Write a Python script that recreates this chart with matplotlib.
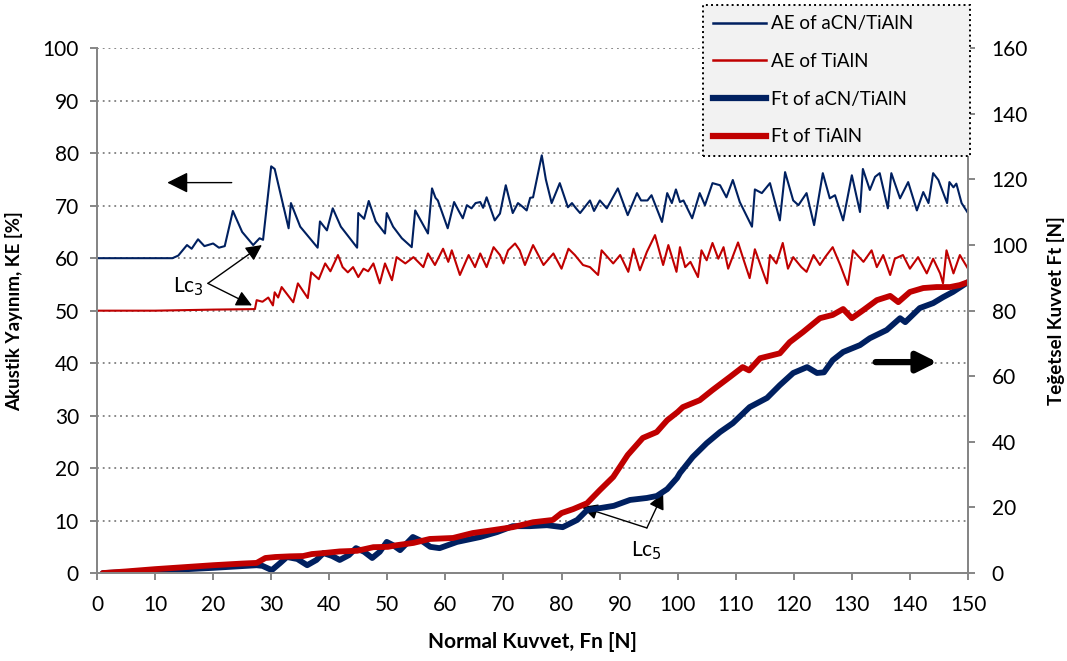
import matplotlib.pyplot as plt
from matplotlib.lines import Line2D

plt.rcParams['font.family'] = ['Lato', 'DejaVu Sans']

# AE of aCN/TiAlN (sol eksen, %)
ae_acn_x = [0, 13, 14, 15.5, 16.3, 17.4, 18.5, 20, 21, 22, 23.4, 25, 26.9, 28, 28.6, 30, 30.6, 33, 33.4, 35,
            38, 38.4, 39.6, 40.6, 42, 44.8, 45, 46, 46.8, 48, 49.6, 49.9, 51, 52.5, 54.2, 54.8, 57, 57.7, 58.3,
            58.7, 60.4, 61.5, 62.3, 63, 63.7, 64.5, 65.2, 66, 66.5, 67.1, 68.5, 69.4, 70.4, 71.6, 72.5, 73.3,
            74, 74.6, 75.1, 76.6, 77.3, 78.3, 79.7, 81.1, 81.8, 82.5, 83.2, 84.9, 85.6, 86.6, 87.8, 89.7, 91.4,
            93, 93.7, 94.8, 95.5, 97.3, 98.2, 99, 99.7, 100.4, 101, 102.5, 103.8, 104.7, 106, 107.3, 108.4,
            109.5, 110.7, 112.8, 113.3, 114.5, 115.9, 117.6, 118.5, 119.9, 120.8, 122.2, 123.5, 125, 126.2,
            127.1, 128.5, 130, 131.4, 131.9, 133.1, 134, 134.8, 136.2, 136.8, 138.3, 139.7, 141.2, 142.3,
            143.2, 144, 144.9, 146.4, 146.8, 147.5, 148, 148.9, 150]
ae_acn_y = [60, 60, 60.5, 62.5, 61.8, 63.6, 62.3, 62.8, 62, 62.3, 69, 65, 62.5, 63.8, 63.5, 77.5, 77, 65.7, 70.5, 66,
            62, 67, 65.3, 69.5, 66, 62, 68.6, 67.5, 70.9, 67, 64.7, 68.6, 66, 63.8, 62.1, 69.1, 64.7, 73.3, 71.5,
            71, 65.7, 70.7, 69, 67.6, 70.1, 69.5, 70.5, 70.7, 69.6, 71.6, 67.2, 68.5, 73.9, 68.6, 70.5, 69.8,
            69.1, 71.5, 71.6, 79.6, 75, 70.5, 74.3, 69.7, 70.5, 69.5, 68.6, 71, 69, 71, 69.5, 73.3, 68.2,
            72.4, 71, 71, 72, 66.9, 72.4, 70.5, 73.1, 70.7, 71, 67.6, 72.4, 70.1, 74.3, 73.9, 71.6,
            74.9, 70.7, 66, 73.1, 72.4, 74.3, 67.2, 76.4, 71, 70.1, 72.4, 66.3, 76.2, 71.4,
            72, 67.2, 75.8, 68.8, 77, 73, 75.5, 76.2, 69.5, 76.2, 71.4, 74.5, 69.1, 72.6,
            70.5, 76.2, 74.9, 70.5, 74.5, 73.5, 74.2, 70.5, 68.6]

# AE of TiAlN (sol eksen, %)
ae_tialn_x = [0, 10, 20, 27.2, 27.5, 28.5, 29.5, 30.3, 30.6, 31.2, 31.8, 33.8, 34.6, 36.3, 36.9, 38.2, 39.3, 40.2,
              41.5, 42.3, 43.2, 44.1, 45, 45.9, 46.7, 47.6, 48.7, 49.6, 50.8, 51.6, 53.1, 54.5, 56.2, 57, 58.2,
              59.6, 60.5, 61.1, 62.5, 64, 65.1, 66, 67.1, 68.3, 69.4, 70, 70.8, 72, 72.8, 73.7, 75.1, 76.9, 78.6,
              80, 81.2, 82.3, 83.7, 84.9, 86.3, 86.9, 88.9, 90.1, 91.5, 92.4, 93.5, 94.7, 96.1, 97.5, 98.4, 99.8,
              100.4, 101.3, 102.2, 103.5, 104.1, 105, 106, 107, 107.9, 108.7, 110.4, 111.3, 112.4, 113.3, 115.4,
              115.9, 117, 118.1, 119, 119.9, 121.3, 122.2, 123.4, 124.5, 125.4, 126.7, 128, 129.3, 130.2, 132,
              133.4, 134.3, 135.4, 136.6, 137.4, 138.8, 140, 141.4, 142.9, 144, 145.2, 145.7, 146.3, 147.5,
              148.6, 150]
ae_tialn_y = [50, 50, 50.2, 50.3, 52, 51.7, 52.5, 51, 53.5, 52.5, 54.5, 51.6, 55.2, 52.4, 57.3, 56, 59, 57.5,
              60.6, 58.3, 57.3, 58.3, 56.4, 58, 57.5, 59, 55.2, 59, 55.8, 60.2, 59, 60.2, 58.3, 60.9, 58.7,
              61.8, 59.3, 61.5, 56.8, 60.6, 58.3, 60.9, 58.3, 62.1, 60.6, 59, 61.5, 62.8, 61.5, 58.7, 62.5, 58.7, 60.9,
              58, 61.8, 60.6, 58.7, 58.3, 56.8, 61.5, 59, 60.6, 57.4, 61.8, 57.7, 61.2, 64.4, 58.7, 62.5, 57.4,
              62.1, 58.3, 59.3, 56.4, 61.5, 59.6, 62.9, 59.9, 62.1, 58, 63, 59.9, 56.2, 61.7, 55.2,
              60.6, 59, 62.9, 58, 60.2, 58.3, 57.4, 60.6, 58.7, 60.2, 62.1, 58.7, 54.9, 61.5, 59.3,
              61.5, 58.3, 60.6, 56.8, 59.9, 60.6, 58, 60.2, 57.1, 59.9, 57.1, 55.2, 61.5, 57.1,
              60.6, 58]

# Ft of aCN/TiAlN (sağ eksen, N)
ft_acn_x = [1, 10, 20, 27.5, 28.5, 30.1, 31.5, 32.7, 34.5, 36.2, 37.8, 39, 40.5, 41.8, 43.4, 44.6, 46, 47.4,
            48.7, 49.9, 51, 52.2, 54.4, 56.2, 57.4, 59, 62, 66, 68.9, 71.6, 74.5, 77.5, 80.2, 82.7, 84.4, 86.6,
            89, 91.8, 94.7, 96.4, 98.2, 99.9, 100.4, 102.6, 105, 107.3, 109.5, 112.4, 115.4, 117.6, 119.9,
            122.3, 124, 125.2, 126.7, 128.5, 131.4, 133.1, 136, 138.3, 139.2, 141.7, 144, 145.7, 147.4, 150]
ft_acn_y = [0, 0.7, 1.6, 2.4, 2.2, 0.9, 3, 4.9, 4.3, 2.4, 4, 6.1, 5.2, 4, 5.5, 7.6, 6.5, 4.6,
            6.5, 9.5, 8.5, 7, 11, 9.5, 8, 7.6, 9.5, 11, 12.5, 14.3, 14.3, 14.6, 14, 16.2, 19.2, 19.8,
            20.5, 22.3, 22.9, 23.5, 25.6, 29, 30.5, 35.4, 39.6, 43, 45.7, 50.6, 53.4, 57.3, 61,
            62.8, 61, 61.2, 64.9, 67.4, 69.5, 71.6, 74.1, 77.7, 76.5, 80.8, 82.3, 84.1, 85.7, 88.7]

# Ft of TiAlN (sağ eksen, N)
ft_tialn_x = [1, 5, 10, 15, 20, 25, 27.5, 29, 30.7, 33.2, 35.5, 37, 39, 41.8, 44.8, 47.6, 50.1, 51.6, 54.5,
              57.3, 61.3, 64.7, 68.2, 71.6, 75.1, 78.5, 80, 82, 84.4, 86.6, 88.9, 91.4, 94, 96.4, 98.2, 100,
              100.9, 103.8, 106, 109, 111.2, 112.3, 114.2, 117.6, 119.3, 121.6, 124.5, 126.7, 128.5, 130, 132,
              134.3, 136.6, 138, 140, 142.3, 144.6, 146.9, 148.6, 150]
ft_tialn_y = [0, 0.5, 1.2, 1.8, 2.4, 2.9, 3.1, 4.6, 4.9, 5.1, 5.2, 5.8, 6.1, 6.6, 6.8, 7.9, 8, 8.5, 9.2,
              10.4, 10.7, 12.2, 13.1, 14, 15.5, 16.2, 18.3, 19.5, 21.3, 25.3, 29.3, 36, 41.2, 43, 46.6, 49.1,
              50.6, 52.7, 55.8, 59.8, 62.8, 61.8, 65.5, 67, 70.4, 73.5, 77.7, 78.7, 80.5, 77.7, 80.2,
              83.2, 84.5, 82.6, 85.7, 86.9, 87.2, 87.2, 87.8, 88.7]

navy = '#002060'
red = '#c00000'
gray = '#868686'

fig = plt.figure(figsize=(10.67, 6.61), dpi=100)
ax1 = fig.add_axes([0.0909, 0.133, 0.8163, 0.794])
ax2 = ax1.twinx()

ax1.plot(ae_acn_x, ae_acn_y, color=navy, lw=1.5, label='AE of aCN/TiAlN')
ax1.plot(ae_tialn_x, ae_tialn_y, color=red, lw=1.5, label='AE of TiAlN')
ax2.plot(ft_acn_x, ft_acn_y, color=navy, lw=4.2, solid_capstyle='round', solid_joinstyle='round',
         label='Ft of aCN/TiAlN')
ax2.plot(ft_tialn_x, ft_tialn_y, color=red, lw=4.2, solid_capstyle='round', solid_joinstyle='round',
         label='Ft of TiAlN')

ax1.set_xlim(0, 150)
ax1.set_ylim(0, 100)
ax2.set_ylim(0, 160)
ax1.set_xticks(range(0, 151, 10))
ax1.set_yticks(range(0, 101, 10))
ax2.set_yticks(range(0, 161, 20))

for a in (ax1, ax2):
    a.spines['top'].set_visible(False)
    for s in ('left', 'right', 'bottom'):
        a.spines[s].set_color(gray)
        a.spines[s].set_linewidth(1.4)
    a.tick_params(colors=gray, labelcolor='black', labelsize=15, length=5, width=1.4, direction='out')
ax1.tick_params(axis='x', pad=11)
ax1.tick_params(axis='y', pad=8)
ax2.tick_params(axis='y', pad=12)

ax1.yaxis.grid(True, linestyle=(0, (1, 2.2)), color='#7f7f7f', linewidth=1.3)
ax1.set_axisbelow(True)

ax1.set_xlabel('Normal Kuvvet, Fn [N]', fontsize=15, fontweight='bold', labelpad=12)
ax1.set_ylabel('Akustik Yayınım, KE [%]', fontsize=13.5, fontweight='bold', labelpad=14)
ax2.set_ylabel('Teğetsel Kuvvet Ft [N]', fontsize=13.5, fontweight='bold', labelpad=14)

# Oklar ve etiketler
arr = dict(arrowstyle='-|>', color='black', lw=1, mutation_scale=24, shrinkA=0, shrinkB=0)
ax1.annotate('', xy=(28.4, 62.5), xytext=(19.1, 55.2), arrowprops=arr)
ax1.annotate('', xy=(26.7, 51.0), xytext=(19.1, 55.2), arrowprops=arr)
ax1.text(15.7, 54.5, 'Lc$_3$', fontsize=15, ha='center', va='center')

ax1.annotate('', xy=(83.5, 12.6), xytext=(94.7, 8.6), arrowprops=arr)
ax1.annotate('', xy=(97.5, 15.2), xytext=(94.7, 8.6), arrowprops=arr)
ax1.text(94.6, 4.3, 'Lc$_5$', fontsize=15, ha='center', va='center')

ax1.annotate('', xy=(12.1, 74.4), xytext=(23.2, 74.4),
             arrowprops=dict(arrowstyle='-|>', color='black', lw=1, mutation_scale=32, shrinkA=0, shrinkB=0))
ax1.annotate('', xy=(144.7, 40.2), xytext=(134.1, 40.2),
             arrowprops=dict(arrowstyle='-|>', color='black', lw=4.5, mutation_scale=30, shrinkA=0, shrinkB=0))

handles = [Line2D([], [], color=navy, lw=1.8), Line2D([], [], color=red, lw=1.8),
           Line2D([], [], color=navy, lw=4.5), Line2D([], [], color=red, lw=4.5)]
labels = ['AE of aCN/TiAlN', 'AE of TiAlN', 'Ft of aCN/TiAlN', 'Ft of TiAlN']
leg = ax2.legend(handles, labels, loc='upper left', mode='expand',
                 bbox_to_anchor=(703 / 1067, 1 - 155 / 661, 267 / 1067, 150 / 661),
                 bbox_transform=fig.transFigure, fontsize=13.5, frameon=True, fancybox=False,
                 borderaxespad=0, handlelength=2.8, handletextpad=0.3, labelspacing=1.1,
                 borderpad=0.55)
frame = leg.get_frame()
frame.set_facecolor('#f2f2f2')
frame.set_edgecolor('black')
frame.set_linestyle(':')
frame.set_linewidth(1.4)
frame.set_alpha(1)
leg.set_zorder(10)

fig.savefig('out.png', dpi=100)
